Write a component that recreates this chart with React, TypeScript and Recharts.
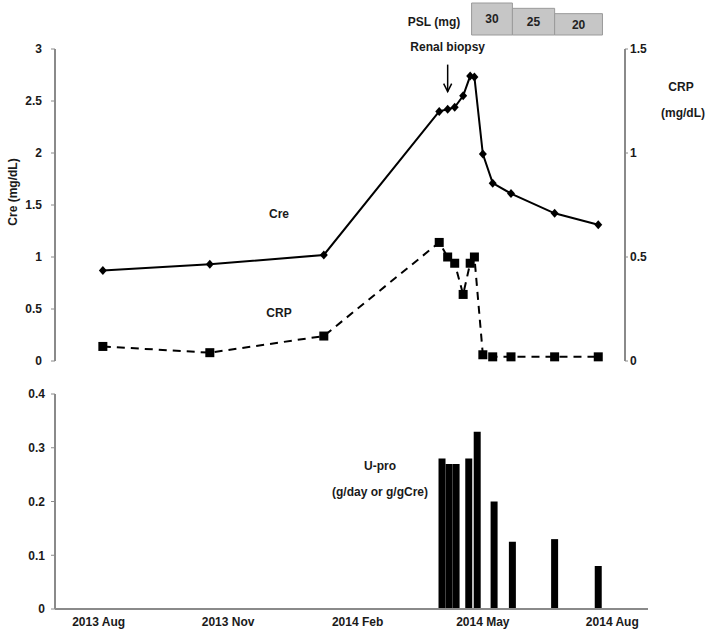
import React from "react"
import {
  ComposedChart,
  BarChart,
  Line,
  Bar,
  XAxis,
  YAxis,
  ReferenceArea,
  ReferenceLine,
} from "recharts"

// sampling dates shared by Cre and CRP
const labDates = [
  "2013-08-04", "2013-10-19", "2014-01-08", "2014-03-31", "2014-04-06",
  "2014-04-11", "2014-04-17", "2014-04-22", "2014-04-25", "2014-05-01",
  "2014-05-08", "2014-05-21", "2014-06-21", "2014-07-22",
]
const creValues = [0.87, 0.93, 1.02, 2.4, 2.42, 2.44, 2.55, 2.74, 2.73, 1.99, 1.71, 1.61, 1.42, 1.31]
const crpValues = [0.07, 0.04, 0.12, 0.57, 0.5, 0.47, 0.32, 0.47, 0.5, 0.03, 0.02, 0.02, 0.02, 0.02]

const uproDates = [
  "2014-04-02", "2014-04-07", "2014-04-12", "2014-04-21", "2014-04-27",
  "2014-05-09", "2014-05-22", "2014-06-21", "2014-07-22",
]
const uproValues = [0.28, 0.27, 0.27, 0.28, 0.33, 0.2, 0.125, 0.13, 0.08]

const pslStarts = ["2014-04-23", "2014-05-22", "2014-06-21"]
const pslEnds = ["2014-05-22", "2014-06-21", "2014-07-25"]
const pslDoses = [30, 25, 20]

const biopsyDate = "2014-04-06"

const tickDates = ["2013-08-01", "2013-11-01", "2014-02-01", "2014-05-01", "2014-08-01"]
const tickLabels = ["2013 Aug", "2013 Nov", "2014 Feb", "2014 May", "2014 Aug"]

const creTicks = [0, 0.5, 1, 1.5, 2, 2.5, 3]
const crpTicks = [0, 0.5, 1, 1.5]
const uproTicks = [0, 0.1, 0.2, 0.3, 0.4]

const ORIGIN = Date.parse("2013-08-01")
const toDay = (s: string) => (Date.parse(s) - ORIGIN) / 86400000

const FONT = '"Liberation Sans", Arial, sans-serif'
const AXIS = "#8a8a8a"

// layout
const W = 708
const PLOT_L = 55
const PLOT_R_TOP = 625
const PLOT_R_BOT = 648
const X_MIN = toDay("2013-07-01")
const X_MAX_TOP = toDay("2014-08-10")
const X_MAX_BOT = X_MIN + ((X_MAX_TOP - X_MIN) * (PLOT_R_BOT - PLOT_L)) / (PLOT_R_TOP - PLOT_L)

const labData = labDates.map((d, i) => ({ day: toDay(d), cre: creValues[i], crp: crpValues[i] }))
const uproData = uproDates.map((d, i) => ({ day: toDay(d), upro: uproValues[i] }))
const pslData = pslStarts.map((d, i) => ({ day: toDay(d), end: toDay(pslEnds[i]), dose: pslDoses[i] }))

const tickStyle = { fontSize: 12, fontWeight: 700, fill: "#1a1a1a", fontFamily: FONT }

const Diamond = (props: any) => {
  const { cx, cy, index } = props
  if (cx == null || cy == null) return <g key={index} />
  return <path key={index} d={`M${cx},${cy - 4.5}L${cx + 4},${cy}L${cx},${cy + 4.5}L${cx - 4},${cy}Z`} fill="#000" />
}

const Square = (props: any) => {
  const { cx, cy, index } = props
  if (cx == null || cy == null) return <g key={index} />
  return <rect key={index} x={cx - 4.5} y={cy - 4.5} width={9} height={9} fill="#000" />
}

const BiopsyArrow = (props: any) => {
  const { x1, y1, y2 } = props
  if (x1 == null) return null
  return (
    <g>
      <text x={x1} y={y1 - 14} textAnchor="middle" style={{ ...tickStyle }}>
        Renal biopsy
      </text>
      <line x1={x1} y1={y1} x2={x1} y2={y2} stroke="#000" strokeWidth={1.5} />
      <path d={`M${x1 - 4},${y2 - 8}L${x1},${y2}L${x1 + 4},${y2 - 8}`} fill="none" stroke="#000" strokeWidth={1.5} />
    </g>
  )
}

const Label = ({ x, y, children, rotate }: { x: number; y: number; children: React.ReactNode; rotate?: boolean }) => (
  <div
    style={{
      position: "absolute",
      left: x,
      top: y,
      transform: `translate(-50%, -50%)${rotate ? " rotate(-90deg)" : ""}`,
      fontFamily: FONT,
      fontWeight: 700,
      fontSize: 12,
      color: "#1a1a1a",
      whiteSpace: "nowrap",
    }}
  >
    {children}
  </div>
)

export default function App() {
  return (
    <div style={{ position: "absolute", left: 0, top: 0, width: W, height: 631, background: "#fff" }}>
      {/* PSL dose boxes */}
      <div style={{ position: "absolute", left: 0, top: 0 }}>
        <ComposedChart
          width={W}
          height={40}
          data={pslData}
          margin={{ top: 3, right: W - PLOT_R_TOP, bottom: 5, left: PLOT_L }}
        >
          <XAxis type="number" dataKey="day" domain={[X_MIN, X_MAX_TOP]} hide allowDataOverflow />
          <YAxis type="number" domain={[0, 30]} hide width={0} />
          <Line dataKey="dose" stroke="none" dot={false} activeDot={false} isAnimationActive={false} />
          {pslData.map((p) => (
            <ReferenceArea
              key={p.day}
              x1={p.day}
              x2={p.end}
              y1={0}
              y2={p.dose}
              fill="#c6c6c6"
              fillOpacity={1}
              stroke="#9a9a9a"
              strokeWidth={1}
              ifOverflow="visible"
              label={{ value: String(p.dose), position: "center", ...tickStyle, fill: "#222" }}
            />
          ))}
        </ComposedChart>
      </div>

      {/* Cre / CRP */}
      <div style={{ position: "absolute", left: 0, top: 0 }}>
        <ComposedChart
          width={W}
          height={370}
          data={labData}
          margin={{ top: 49, right: W - PLOT_R_TOP - 40, bottom: 9, left: PLOT_L - 45 }}
        >
          <XAxis type="number" dataKey="day" domain={[X_MIN, X_MAX_TOP]} hide allowDataOverflow />
          <YAxis
            yAxisId="cre"
            width={45}
            domain={[0, 3]}
            ticks={creTicks}
            tick={tickStyle}
            axisLine={{ stroke: AXIS, strokeWidth: 2 }}
            tickLine={{ stroke: AXIS }}
            tickSize={4}
            tickMargin={9}
          />
          <YAxis
            yAxisId="crp"
            orientation="right"
            width={40}
            domain={[0, 1.5]}
            ticks={crpTicks}
            tick={{ ...tickStyle, textAnchor: "start" }}
            axisLine={{ stroke: AXIS, strokeWidth: 2 }}
            tickLine={{ stroke: AXIS }}
            tickSize={3}
            tickMargin={2}
          />
          <ReferenceLine
            yAxisId="cre"
            segment={[
              { x: toDay(biopsyDate), y: 2.85 },
              { x: toDay(biopsyDate), y: 2.59 },
            ]}
            ifOverflow="visible"
            shape={BiopsyArrow}
          />
          <Line
            yAxisId="crp"
            dataKey="crp"
            stroke="#000"
            strokeWidth={2}
            strokeDasharray="8 6"
            dot={Square}
            activeDot={false}
            isAnimationActive={false}
          />
          <Line
            yAxisId="cre"
            dataKey="cre"
            stroke="#000"
            strokeWidth={2}
            dot={Diamond}
            activeDot={false}
            isAnimationActive={false}
          />
        </ComposedChart>
      </div>

      {/* U-pro */}
      <div style={{ position: "absolute", left: 0, top: 370 }}>
        <BarChart
          width={W}
          height={261}
          data={uproData}
          margin={{ top: 24, right: W - PLOT_R_BOT, bottom: 2, left: PLOT_L - 45 }}
        >
          <XAxis
            type="number"
            dataKey="day"
            domain={[X_MIN, X_MAX_BOT]}
            ticks={tickDates.map(toDay)}
            tickFormatter={(v: number) => tickLabels[tickDates.map(toDay).indexOf(v)] ?? ""}
            tick={tickStyle}
            axisLine={{ stroke: AXIS, strokeWidth: 2 }}
            tickLine={false}
            tickSize={6}
            tickMargin={2}
            height={20}
            allowDataOverflow
          />
          <YAxis
            width={45}
            domain={[0, 0.4]}
            ticks={uproTicks}
            tick={tickStyle}
            axisLine={{ stroke: AXIS, strokeWidth: 2 }}
            tickLine={{ stroke: AXIS }}
            tickSize={4}
            tickMargin={6}
          />
          <Bar dataKey="upro" fill="#000" barSize={7} isAnimationActive={false} />
        </BarChart>
      </div>

      <Label x={13} y={192} rotate>Cre (mg/dL)</Label>
      <Label x={681} y={87}>CRP</Label>
      <Label x={683} y={113}>(mg/dL)</Label>
      <Label x={434} y={22}>PSL (mg)</Label>
      <Label x={279} y={214}>Cre</Label>
      <Label x={279} y={313}>CRP</Label>
      <Label x={380} y={466}>U-pro</Label>
      <Label x={380} y={492}>(g/day or g/gCre)</Label>
    </div>
  )
}
